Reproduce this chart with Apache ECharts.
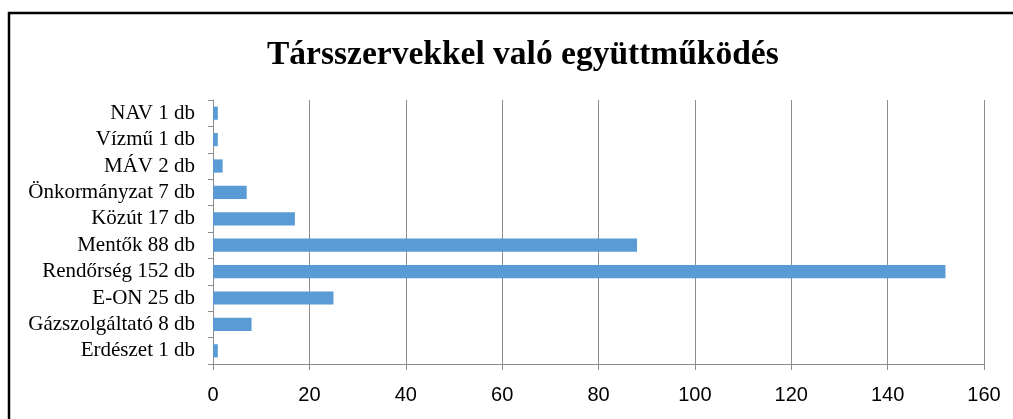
<!DOCTYPE html>
<html>
<head>
<meta charset="utf-8">
<script src="https://cdn.jsdelivr.net/npm/echarts@6/dist/echarts.min.js"></script>
<style>
  html, body { margin: 0; padding: 0; background: #fff; }
  #chart { width: 1013px; height: 419px; }
</style>
</head>
<body>
<div id="chart"></div>
<script>
// categories listed bottom to top, as the category axis draws them
var categories = ['Erdészet 1 db', 'Gázszolgáltató 8 db', 'E-ON 25 db', 'Rendőrség 152 db', 'Mentők 88 db',
    'Közút 17 db', 'Önkormányzat 7 db', 'MÁV 2 db', 'Vízmű 1 db', 'NAV 1 db'];
var values = [1, 8, 25, 152, 88, 17, 7, 2, 1, 1];
var xTicks = [0, 20, 40, 60, 80, 100, 120, 140, 160];

var chart = echarts.init(document.getElementById('chart'));

var gridColor = '#8c8c8c';

chart.setOption({
    animation: false,
    title: {
        text: 'Társszervekkel való együttműködés',
        left: 262,
        top: 33,
        textStyle: {
            fontFamily: 'Liberation Serif',
            fontWeight: 'bold',
            fontSize: 33.5,
            color: '#000'
        }
    },
    graphic: [{
        type: 'rect',
        shape: { x: 9, y: 13, width: 1020, height: 420 },
        style: { fill: 'none', stroke: '#000', lineWidth: 2.5 },
        silent: true
    }],
    grid: { left: 213, right: 29, top: 100, bottom: 55 },
    xAxis: {
        type: 'value',
        min: xTicks[0],
        max: xTicks[xTicks.length - 1],
        interval: 20,
        axisLine: { show: true, lineStyle: { color: gridColor, width: 1 } },
        axisTick: { show: true, length: 6, lineStyle: { color: gridColor } },
        splitLine: { show: true, lineStyle: { color: gridColor, width: 1 } },
        axisLabel: {
            margin: 21,
            fontFamily: 'Liberation Sans',
            fontSize: 20,
            color: '#000'
        }
    },
    yAxis: {
        type: 'category',
        data: categories,
        axisLine: { show: true, lineStyle: { color: gridColor, width: 1 } },
        axisTick: { show: true, length: 5, lineStyle: { color: gridColor } },
        axisLabel: {
            interval: 0,
            margin: 18,
            fontFamily: 'Liberation Serif',
            fontSize: 21,
            color: '#000'
        }
    },
    series: [{
        type: 'bar',
        data: values,
        barCategoryGap: '50%',
        itemStyle: { color: '#5b9bd5' }
    }]
});
</script>
</body>
</html>
